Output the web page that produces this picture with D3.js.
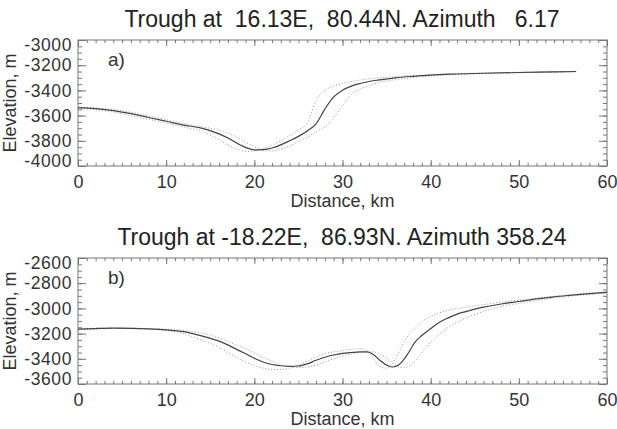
<!DOCTYPE html>
<html>
<head>
<meta charset="utf-8">
<script src="https://cdn.jsdelivr.net/npm/d3@7"></script>
<style>
  body { margin: 0; background: #fff; }
  svg { display: block; font-family: "Liberation Sans", Arial, Helvetica, sans-serif; }
  .tick text { fill: #333; }
  .tick line { stroke: #777; }
</style>
</head>
<body>
<svg id="chart" width="617" height="429"></svg>
<script>
// ---- data ----
const titles = [
  "Trough at  16.13E,  80.44N. Azimuth   6.17",
  "Trough at -18.22E,  86.93N. Azimuth 358.24"
];
const panelLabels = ["a)", "b)"];
const xTicks = [0, 10, 20, 30, 40, 50, 60];
const yTicksA = [-3000, -3200, -3400, -3600, -3800, -4000];
const yTicksB = [-2600, -2800, -3000, -3200, -3400, -3600];

// panel a: distance (km) / elevation (m)
const distA = [0, 2, 4, 6, 8, 10, 12, 14, 16, 17, 18, 19, 20, 21, 22, 23, 24, 25, 26, 27, 28, 29, 30, 31, 32, 34, 36, 38, 40, 43, 46, 50, 54, 56.5];
const elevA = [-3537, -3545, -3560, -3585, -3615, -3645, -3675, -3700, -3745, -3778, -3818, -3852, -3872, -3870, -3857, -3832, -3800, -3765, -3722, -3665, -3548, -3452, -3398, -3366, -3345, -3318, -3300, -3288, -3278, -3270, -3264, -3258, -3253, -3250];
const nearLA = [-3542, -3553, -3572, -3600, -3630, -3660, -3690, -3725, -3790, -3835, -3865, -3885, -3880, -3862, -3835, -3800, -3760, -3715, -3660, -3480, -3400, -3365, -3345, -3330, -3318, -3302, -3290, -3282, -3275, -3267, -3262, -3256, -3251, -3249];
const nearRA = [-3535, -3540, -3552, -3573, -3603, -3633, -3663, -3690, -3715, -3740, -3770, -3810, -3845, -3875, -3880, -3865, -3840, -3805, -3770, -3730, -3690, -3620, -3520, -3430, -3390, -3340, -3315, -3298, -3285, -3274, -3267, -3260, -3255, -3252];

// panel b
const distB = [0, 2, 4, 6, 8, 10, 12, 13, 14, 16, 18, 19, 20, 21, 22, 23, 24, 25, 26, 27, 28, 29, 30, 31, 32, 32.8, 33.5, 34.2, 35, 35.6, 36.2, 36.8, 37.5, 38.2, 39, 40, 41, 42, 43, 44, 46, 48, 50, 52, 54, 56, 58, 60];
const elevB = [-3165, -3160, -3157, -3158, -3162, -3170, -3185, -3200, -3218, -3260, -3325, -3360, -3395, -3425, -3445, -3455, -3460, -3457, -3440, -3412, -3388, -3370, -3357, -3350, -3345, -3345, -3365, -3410, -3450, -3465, -3455, -3420, -3350, -3270, -3215, -3160, -3110, -3075, -3045, -3025, -2990, -2965, -2945, -2925, -2908, -2895, -2883, -2872];
const nearLB = [-3160, -3157, -3155, -3157, -3163, -3175, -3200, -3225, -3250, -3310, -3390, -3425, -3455, -3475, -3485, -3485, -3475, -3450, -3420, -3385, -3360, -3345, -3335, -3325, -3320, -3335, -3400, -3460, -3475, -3440, -3380, -3290, -3210, -3160, -3105, -3065, -3035, -3015, -3000, -2990, -2970, -2950, -2935, -2918, -2903, -2890, -2879, -2869];
const nearRB = [-3170, -3165, -3160, -3158, -3160, -3165, -3175, -3185, -3195, -3235, -3290, -3320, -3355, -3390, -3420, -3445, -3460, -3470, -3465, -3450, -3425, -3400, -3378, -3360, -3350, -3345, -3345, -3360, -3395, -3430, -3460, -3470, -3460, -3420, -3350, -3270, -3205, -3150, -3110, -3075, -3025, -2985, -2960, -2938, -2918, -2902, -2890, -2878];

const panels = [
  { top: 40, bottom: 166, yDomain: [-4000, -3000], yTicks: yTicksA, dist: distA, elev: elevA, nearL: nearLA, nearR: nearRA },
  { top: 258, bottom: 384, yDomain: [-3600, -2600], yTicks: yTicksB, dist: distB, elev: elevB, nearL: nearLB, nearR: nearRB }
];

const svg = d3.select("#chart");
const left = 78, right = 607;
const fmt = d => String(d); // plain hyphen like the original

panels.forEach((p, i) => {
  const x = d3.scaleLinear().domain([0, 60]).range([left, right]);
  const y = d3.scaleLinear().domain(p.yDomain).range([p.bottom, p.top]);
  const g = svg.append("g");

  // title
  g.append("text")
    .attr("x", 342).attr("y", p.top - 13)
    .attr("text-anchor", "middle")
    .style("white-space", "pre")
    .attr("font-size", 23).attr("fill", "#222")
    .text(titles[i]);

  const minorX = d3.range(0, 61, 1);
  const minorY = d3.range(p.yDomain[0], p.yDomain[1] + 1, 50);

  // bottom axis with labels
  const xb = g.append("g").attr("transform", `translate(0,${p.bottom})`)
    .call(d3.axisBottom(x).tickValues(xTicks).tickSize(-6).tickPadding(9).tickFormat(fmt));
  xb.selectAll("text").attr("font-size", 18);
  g.append("g").attr("transform", `translate(0,${p.bottom})`)
    .call(d3.axisBottom(x).tickValues(minorX).tickSize(-3).tickFormat(""));
  g.append("g").attr("transform", `translate(0,${p.top})`)
    .call(d3.axisTop(x).tickValues(xTicks).tickSize(-6).tickFormat(""));
  g.append("g").attr("transform", `translate(0,${p.top})`)
    .call(d3.axisTop(x).tickValues(minorX).tickSize(-3).tickFormat(""));

  // left axis with labels; end labels pulled inside the frame as in the original
  const yl = g.append("g").attr("transform", `translate(${left},0)`)
    .call(d3.axisLeft(y).tickValues(p.yTicks).tickSize(-8).tickPadding(6).tickFormat(fmt));
  yl.selectAll("text").attr("font-size", 17.5).attr("letter-spacing", "0.6px")
    .attr("dy", d => d === p.yDomain[1] ? "0.6em" : d === p.yDomain[0] ? "0em" : "0.32em");
  g.append("g").attr("transform", `translate(${left},0)`)
    .call(d3.axisLeft(y).tickValues(minorY).tickSize(-4).tickFormat(""));
  g.append("g").attr("transform", `translate(${right},0)`)
    .call(d3.axisRight(y).tickValues(p.yTicks).tickSize(-8).tickFormat(""));
  g.append("g").attr("transform", `translate(${right},0)`)
    .call(d3.axisRight(y).tickValues(minorY).tickSize(-4).tickFormat(""));

  g.selectAll(".domain").remove();

  // frame
  g.append("rect")
    .attr("x", left).attr("y", p.top)
    .attr("width", right - left).attr("height", p.bottom - p.top)
    .attr("fill", "none").attr("stroke", "#777").attr("stroke-width", 1);

  // axis titles
  g.append("text")
    .attr("x", (left + right) / 2).attr("y", p.bottom + 41)
    .attr("text-anchor", "middle").attr("font-size", 18).attr("fill", "#333")
    .text("Distance, km");
  g.append("text")
    .attr("transform", `translate(16,${(p.top + p.bottom) / 2}) rotate(-90)`)
    .attr("text-anchor", "middle").attr("font-size", 18).attr("fill", "#333")
    .text("Elevation, m");

  g.append("text")
    .attr("x", 108).attr("y", p.top + 26)
    .attr("font-size", 19).attr("fill", "#333")
    .text(panelLabels[i]);

  // neighbouring profiles as dotted traces, then the main profile
  const line = (vals) => d3.line()
    .x((d, k) => x(p.dist[k]))
    .y(d => y(d))
    .curve(d3.curveMonotoneX)(vals);

  [p.nearL, p.nearR].forEach(vals => {
    g.append("path")
      .attr("d", line(vals))
      .attr("fill", "none").attr("stroke", "#999")
      .attr("stroke-width", 1).attr("stroke-dasharray", "1,2");
  });
  g.append("path")
    .attr("d", line(p.elev))
    .attr("fill", "none").attr("stroke", "#444")
    .attr("stroke-width", 1.2);
});
</script>
</body>
</html>
